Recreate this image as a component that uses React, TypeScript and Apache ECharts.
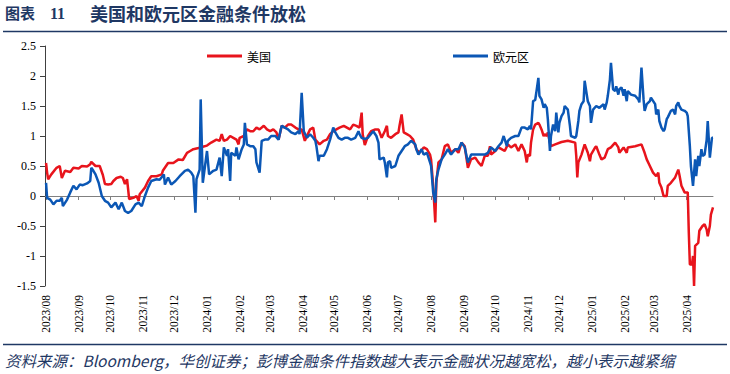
import React, { useEffect, useRef } from 'react';
import * as echarts from 'echarts';

const START = Date.UTC(2023, 7, 1);
const DAY = 86400000;

const monthLabels = [
  '2023/08', '2023/09', '2023/10', '2023/11', '2023/12',
  '2024/01', '2024/02', '2024/03', '2024/04', '2024/05', '2024/06',
  '2024/07', '2024/08', '2024/09', '2024/10', '2024/11', '2024/12',
  '2025/01', '2025/02', '2025/03', '2025/04',
];

const yTicks = { min: -1.5, max: 2.5, step: 0.5 };

// day offsets from 2023-08-01 and values (美国)
const usDays = [
  0, 1, 2, 5, 10, 13, 15, 18, 23, 26, 31, 34, 39, 42, 43, 47, 51, 54, 56, 59,
  62, 64, 67, 71, 73, 75, 77, 79, 83, 86, 88, 89, 94, 97, 100, 105, 110, 111, 116, 121,
  126, 130, 134, 137, 140, 145, 149, 153, 157, 162, 165, 167, 169, 172, 175, 178, 181, 183, 184, 188,
  191, 194, 197, 200, 203, 207, 210, 213, 216, 219, 221, 224, 227, 230, 233, 237, 240, 243, 246, 248,
  251, 254, 256, 257, 260, 264, 267, 270, 273, 276, 279, 283, 286, 289, 292, 295, 298, 300, 301, 303,
  306, 309, 313, 316, 319, 322, 324, 325, 328, 332, 335, 336, 338, 340, 343, 346, 349, 352, 355, 359,
  362, 365, 366, 368, 370, 371, 373, 376, 379, 382, 385, 389, 392, 395, 398, 401, 404, 408, 411, 414,
  417, 420, 422, 423, 427, 430, 433, 436, 439, 442, 446, 449, 452, 455, 457, 458, 460, 461, 463, 465,
  468, 469, 471, 473, 474, 476, 477, 479, 480, 484, 490, 496, 503, 504, 505, 506, 509, 512, 515, 517,
  518, 522, 523, 526, 528, 531, 534, 537, 541, 544, 545, 549, 552, 553, 560, 566, 569, 571, 574, 577,
  580, 582, 583, 585, 587, 590, 591, 594, 598, 601, 602, 604, 607, 610, 611, 612, 614, 615, 616, 617,
  620, 621, 624, 626, 628, 629, 631, 632, 634,
];
const usValues = [
  0.55, 0.39, 0.28, 0.36, 0.47, 0.5, 0.3, 0.42, 0.4, 0.47, 0.46, 0.5, 0.49, 0.53, 0.57, 0.5, 0.5, 0.35, 0.2, 0.19,
  0.2, 0.25, 0.3, 0.32, 0.3, 0.2, 0.28, -0.05, -0.03, 0.0, -0.08, 0.03, 0.14, 0.25, 0.33, 0.33, 0.36, 0.42, 0.55, 0.55,
  0.61, 0.6, 0.72, 0.75, 0.78, 0.8, 0.82, 0.84, 0.89, 0.94, 0.92, 1.03, 0.92, 0.94, 1.0, 0.97, 0.94, 0.86, 0.97, 1.0,
  1.11, 1.08, 1.08, 1.14, 1.11, 1.17, 1.11, 1.08, 1.11, 1.06, 0.94, 1.17, 1.14, 1.19, 1.19, 1.14, 1.11, 1.11, 0.92, 1.0,
  1.11, 1.14, 0.94, 0.92, 0.86, 0.92, 0.94, 1.03, 1.08, 1.11, 1.14, 1.17, 1.14, 1.11, 1.19, 1.17, 1.14, 1.39, 1.03, 0.85,
  1.0, 1.08, 1.11, 1.11, 0.97, 1.08, 1.17, 1.0, 0.97, 1.03, 1.06, 1.17, 1.36, 1.06, 1.03, 1.0, 0.94, 0.78, 0.72, 0.81,
  0.78, 0.69, 0.61, 0.17, -0.44, 0.22, 0.56, 0.61, 0.83, 0.86, 0.72, 0.78, 0.72, 0.89, 0.83, 0.47, 0.61, 0.64, 0.56, 0.5,
  0.67, 0.67, 0.83, 0.69, 0.75, 0.81, 0.78, 0.75, 0.86, 0.81, 0.86, 0.75, 0.86, 0.75, 0.56, 0.69, 0.67, 0.89, 1.11, 1.19,
  1.22, 1.19, 1.11, 1.0, 1.03, 1.0, 1.06, 0.89, 0.83, 0.86, 0.9, 0.92, 0.89, 0.67, 0.31, 0.56, 0.69, 0.86, 0.72, 0.58,
  0.69, 0.81, 0.83, 0.69, 0.61, 0.64, 0.78, 0.81, 0.89, 0.81, 0.72, 0.81, 0.72, 0.81, 0.83, 0.86, 0.72, 0.61, 0.5, 0.39,
  0.33, 0.39, 0.22, 0.14, 0.0, 0.0, 0.17, 0.22, 0.31, 0.44, 0.36, 0.17, 0.06, 0.06, -0.61, -1.14, -1.14, -1.0, -1.5, -0.83,
  -0.78, -0.58, -0.5, -0.47, -0.56, -0.67, -0.5, -0.31, -0.19,
];

// day offsets from 2023-08-01 and values (欧元区)
const euDays = [
  0, 1, 4, 7, 10, 13, 15, 16, 20, 23, 26, 29, 32, 35, 39, 42, 43, 45, 47, 50,
  53, 56, 59, 62, 66, 69, 72, 75, 78, 81, 85, 88, 91, 94, 97, 100, 105, 108, 112, 113,
  116, 119, 123, 127, 132, 135, 138, 140, 142, 143, 146, 147, 149, 153, 155, 159, 162, 165, 167, 169,
  172, 173, 175, 176, 180, 181, 183, 186, 188, 189, 191, 194, 197, 199, 200, 203, 205, 208, 211, 214,
  218, 221, 224, 227, 230, 233, 237, 240, 241, 243, 245, 248, 251, 254, 256, 257, 259, 260, 264, 267,
  270, 273, 275, 278, 281, 284, 287, 290, 294, 297, 298, 300, 303, 306, 311, 314, 316, 317, 321, 322,
  324, 325, 327, 328, 332, 335, 338, 341, 344, 347, 351, 352, 354, 357, 359, 362, 363, 365, 366, 368,
  370, 371, 373, 376, 379, 382, 385, 389, 392, 395, 398, 401, 403, 404, 409, 414, 417, 420, 423, 427,
  430, 433, 435, 438, 439, 442, 446, 449, 452, 455, 458, 460, 461, 463, 465, 466, 468, 469, 471, 473,
  474, 476, 477, 479, 480, 482, 484, 485, 487, 488, 490, 492, 493, 496, 498, 499, 503, 504, 506, 507,
  509, 511, 512, 514, 515, 517, 518, 520, 523, 526, 530, 531, 533, 534, 536, 537, 539, 541, 542, 544,
  545, 547, 549, 550, 552, 553, 556, 560, 563, 564, 566, 568, 569, 571, 574, 575, 579, 580, 582, 583,
  585, 587, 588, 590, 591, 594, 596, 598, 599, 601, 602, 604, 607, 609, 610, 612, 613, 615, 617, 618,
  620, 621, 623, 624, 626, 628, 629, 631, 633, 634,
];
const euValues = [
  0.22, -0.03, -0.06, -0.14, -0.08, -0.08, -0.03, -0.17, -0.06, 0.06, 0.17, 0.11, 0.19, 0.18, 0.21, 0.25, 0.47, 0.42, 0.36, 0.22,
  0.0, -0.08, -0.11, -0.19, -0.11, -0.22, -0.11, -0.25, -0.28, -0.25, -0.14, -0.11, -0.17, 0.0, 0.14, 0.25, 0.28, 0.27, 0.36, 0.19,
  0.31, 0.19, 0.25, 0.33, 0.42, 0.44, 0.39, 0.33, -0.28, 0.28, 0.44, 1.61, 0.22, 0.75, 0.36, 0.42, 0.44, 0.64, 0.33, 0.81,
  0.67, 0.78, 0.25, 0.72, 0.67, 0.81, 0.61, 0.78, 0.86, 1.22, 0.86, 0.83, 0.83, 0.78, 0.56, 0.39, 0.92, 0.94, 0.94, 1.0,
  1.0, 0.94, 1.17, 1.14, 1.11, 1.06, 1.03, 1.08, 1.03, 1.72, 1.08, 0.97, 1.03, 0.97, 0.92, 0.83, 0.58, 0.67, 0.67, 0.78,
  0.94, 1.14, 1.06, 0.97, 0.94, 0.97, 0.97, 0.94, 0.97, 1.08, 1.03, 0.97, 0.95, 0.97, 1.08, 1.0, 0.89, 0.61, 0.64, 0.56,
  0.31, 0.56, 0.58, 0.47, 0.5, 0.67, 0.75, 0.83, 0.86, 0.92, 0.86, 0.78, 0.69, 0.78, 0.69, 0.72, 0.67, 0.56, 0.5, 0.06,
  -0.11, 0.28, 0.44, 0.61, 0.69, 0.78, 0.69, 0.78, 0.78, 0.89, 0.81, 0.56, 0.64, 0.69, 0.69, 0.69, 0.69, 0.72, 0.81, 0.75,
  0.83, 0.89, 1.0, 0.83, 0.92, 0.97, 1.0, 1.0, 1.14, 1.14, 1.11, 1.17, 1.11, 1.58, 1.6, 1.72, 1.97, 1.67, 1.61, 1.47,
  1.53, 1.47, 1.28, 0.75, 1.0, 1.19, 1.08, 1.39, 1.06, 1.22, 1.33, 1.39, 1.5, 1.44, 1.17, 1.0, 0.97, 1.0, 1.25, 1.42,
  1.53, 1.58, 1.92, 1.69, 1.58, 1.5, 1.22, 1.44, 1.5, 1.47, 1.53, 1.44, 1.56, 1.67, 1.94, 2.22, 1.78, 1.75, 1.83, 1.69,
  1.78, 1.81, 1.67, 1.78, 1.58, 1.75, 1.69, 1.67, 1.61, 1.56, 2.14, 1.61, 1.42, 1.53, 1.58, 1.64, 1.53, 1.36, 1.44, 1.25,
  1.14, 1.08, 1.11, 1.28, 1.31, 1.42, 1.44, 1.36, 1.5, 1.56, 1.5, 1.44, 1.42, 1.39, 1.33, 0.83, 0.5, 0.17, 0.61, 0.33,
  0.67, 0.5, 0.78, 0.67, 0.69, 0.94, 1.25, 0.64, 0.97, 0.97,
];

const seriesNames = ['美国', '欧元区'];
const titleLabel = '图表';
const titleNumber = '11';
const titleText = '美国和欧元区金融条件放松';
const sourceText = '资料来源：Bloomberg，华创证券；彭博金融条件指数越大表示金融状况越宽松，越小表示越紧缩';

const NAVY = '#1F3864';
const RED = '#E8141C';
const BLUE = '#0B57B5';

// month label -> day offset from START
function monthToDay(label: string) {
  const [y, m] = label.split('/').map(Number);
  return Math.round((Date.UTC(y, m - 1, 1) - START) / DAY);
}

export default function App() {
  const ref = useRef<HTMLDivElement>(null);

  useEffect(() => {
    if (!ref.current) return;
    const chart = echarts.init(ref.current, null, { renderer: 'svg' });
    const tickVals = monthLabels.map(monthToDay);
    const labelByDay: Record<number, string> = {};
    monthLabels.forEach((l, i) => { labelByDay[tickVals[i]] = l; });
    const xMin = -1;
    const xMax = 634;
    const usData = usDays.map((d, i) => [d, usValues[i]]);
    const euData = euDays.map((d, i) => [d, euValues[i]]);

    chart.setOption({
      animation: false,
      backgroundColor: '#ffffff',
      grid: { left: 45, right: 17, top: 46, bottom: 88, containLabel: false },
      legend: {
        data: seriesNames,
        left: 202,
        top: 45,
        icon: 'rect',
        itemWidth: 35,
        itemHeight: 3,
        itemGap: 182,
        textStyle: { fontSize: 12, color: '#000', fontFamily: 'Noto Sans CJK SC' },
      },
      xAxis: [
        {
          type: 'value',
          min: xMin,
          max: xMax,
          position: 'bottom',
          axisLine: { show: false, onZero: false },
          axisTick: { show: false },
          splitLine: { show: false },
          axisLabel: {
            customValues: tickVals,
            formatter: (v: number) => labelByDay[Math.round(v)] ?? '',
            rotate: 90,
            fontSize: 11.5,
            fontFamily: 'Liberation Serif',
            color: '#000',
            margin: 9,
            hideOverlap: false,
            showMinLabel: true,
            showMaxLabel: true,
          },
        },
        {
          type: 'value',
          min: xMin,
          max: xMax,
          position: 'bottom',
          axisLine: { show: true, onZero: true, lineStyle: { color: '#808080', width: 1 } },
          axisTick: { show: true, customValues: tickVals, length: 4, lineStyle: { color: '#808080' } },
          axisLabel: { show: false },
          splitLine: { show: false },
        },
      ],
      yAxis: {
        type: 'value',
        min: yTicks.min,
        max: yTicks.max,
        interval: yTicks.step,
        axisLine: { show: true, onZero: false, lineStyle: { color: '#404040', width: 1 } },
        axisTick: { show: true, length: 5, lineStyle: { color: '#404040' } },
        splitLine: { show: false },
        axisLabel: {
          fontSize: 12,
          fontFamily: 'Liberation Serif',
          color: '#000',
          margin: 9,
          formatter: (v: number) => String(v),
        },
      },
      series: [
        {
          name: seriesNames[0],
          type: 'line',
          xAxisIndex: 0,
          data: usData,
          showSymbol: false,
          symbol: 'none',
          lineStyle: { color: RED, width: 2.5 },
          itemStyle: { color: RED },
        },
        {
          name: seriesNames[1],
          type: 'line',
          xAxisIndex: 0,
          data: euData,
          showSymbol: false,
          symbol: 'none',
          lineStyle: { color: BLUE, width: 2.5 },
          itemStyle: { color: BLUE },
        },
      ],
      graphic: [
        {
          type: 'text',
          left: 5,
          top: 5,
          style: { text: titleLabel, font: 'bold 15px "Noto Sans CJK SC"', fill: NAVY },
        },
        {
          type: 'text',
          left: 50,
          top: 5,
          style: { text: titleNumber, font: 'bold 16px "Liberation Serif"', fill: NAVY },
        },
        {
          type: 'text',
          left: 90,
          top: 4,
          style: { text: titleText, font: 'bold 18px "Noto Sans CJK SC"', fill: NAVY },
        },
        {
          type: 'line',
          shape: { x1: 3, y1: 31.5, x2: 727, y2: 31.5 },
          style: { stroke: NAVY, lineWidth: 1.5 },
        },
        {
          type: 'line',
          shape: { x1: 3, y1: 344.5, x2: 727, y2: 344.5 },
          style: { stroke: NAVY, lineWidth: 1.5 },
        },
        {
          type: 'text',
          left: 5,
          top: 352,
          style: { text: sourceText, font: 'italic 15.5px "Noto Sans CJK SC"', fill: NAVY },
        },
      ],
    });
    return () => chart.dispose();
  }, []);

  return (
    <div
      ref={ref}
      style={{ position: 'fixed', left: 0, top: 0, width: 730, height: 374, background: '#fff' }}
    />
  );
}
